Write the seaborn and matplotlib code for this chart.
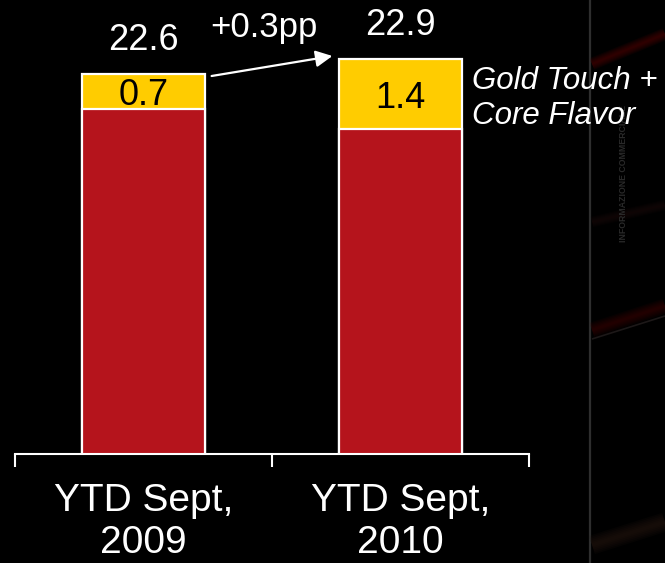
import matplotlib
matplotlib.use("Agg")
import matplotlib.pyplot as plt
from matplotlib.lines import Line2D
import seaborn as sns
import pandas as pd

# Share figures (%), YTD September
periods = ["YTD Sept,\n2009", "YTD Sept,\n2010"]
totals = [22.6, 22.9]
gold_core = [0.7, 1.4]
change_label = "+0.3pp"
segment_label = "Gold Touch +\nCore Flavor"

base = [t - g for t, g in zip(totals, gold_core)]
df = pd.DataFrame({"period": periods, "total": totals, "gold": gold_core, "base": base})

sns.set_style("dark")
plt.rcParams["font.family"] = ["Liberation Sans", "DejaVu Sans"]

RED = "#B5141C"
YELLOW = "#FFCC00"
W, H = 665, 563

fig = plt.figure(figsize=(W / 100, H / 100), dpi=100, facecolor="black")
ax = fig.add_axes([15 / W, 109 / H, 514 / W, 454 / H])
ax.set_facecolor("none")

bar_w = 0.48
sns.barplot(data=df, x="period", y="total", color=YELLOW, width=bar_w,
            edgecolor="white", linewidth=1.6, saturation=1, ax=ax)
sns.barplot(data=df, x="period", y="base", color=RED, width=bar_w,
            edgecolor="white", linewidth=1.6, saturation=1, ax=ax)

ax.set_xlim(-0.5, 1.5)
ax.set_ylim(15, 15 + 454 / 50)
ax.set_xlabel("")
ax.set_ylabel("")
ax.grid(False)
for side in ("top", "right", "left"):
    ax.spines[side].set_visible(False)
ax.spines["bottom"].set_color("white")
ax.spines["bottom"].set_linewidth(1.5)
ax.set_yticks([])

# boundary ticks between categories, labels centred on bars
ax.set_xticks([-0.5, 0.5, 1.5])
ax.set_xticklabels(["", "", ""])
ax.tick_params(axis="x", which="major", bottom=True, direction="out", length=9,
               width=1.5, color="white")
ax.set_xticks([0, 1], minor=True)
ax.set_xticklabels(periods, minor=True)
ax.tick_params(axis="x", which="minor", bottom=True, length=0, pad=21, labelsize=28,
               labelcolor="white")
for lab in ax.get_xticklabels(minor=True):
    lab.set_linespacing(1.22)

# totals above bars and segment values inside the yellow part
for i, (t, g) in enumerate(zip(totals, gold_core)):
    ax.annotate(f"{t:.1f}", xy=(i, t), xytext=(0, 17), textcoords="offset points",
                ha="center", va="baseline", fontsize=26, color="white")
    ax.text(i, t - g / 2, f"{g:.1f}", ha="center", va="center_baseline",
            fontsize=26, color="black")

# change arrow between the bar tops
start = (bar_w / 2 + 0.025, totals[0] - 0.04)
end = (1 - bar_w / 2 - 0.025, totals[1] + 0.06)
ax.annotate("", xy=end, xytext=start,
            arrowprops=dict(arrowstyle="-|>", color="white", lw=1.6,
                            mutation_scale=25, shrinkA=0, shrinkB=0))
ax.text(0.47, 23.34, change_label, ha="center", va="baseline", fontsize=25, color="white")

fig.text(472 / W, 1 - 66 / H, segment_label, ha="left", va="top", fontsize=22.5,
         style="italic", color="white", linespacing=1.22)

# right-hand panel decoration
def px_line(x0, y0, x1, y1, color, lw, alpha):
    fig.add_artist(Line2D([x0 / W, x1 / W], [1 - y0 / H, 1 - y1 / H],
                          transform=fig.transFigure, solid_capstyle="butt",
                          color=color, lw=lw, alpha=alpha, zorder=0))

def glow(x0, y0, x1, y1, color, width, strength):
    # soft band built from stacked translucent strokes
    for k in range(6):
        px_line(x0, y0, x1, y1, color, width * (1 - k / 6), strength)

px_line(590, 0, 590, H, "#2e2e2e", 1.6, 1.0)
glow(592, 64, 665, 34, "#5a0808", 9, 0.12)
glow(592, 330, 665, 306, "#4a0606", 11, 0.10)
px_line(592, 339, 665, 316, "#3a3030", 1.2, 0.5)
glow(592, 222, 665, 205, "#2a1010", 8, 0.08)
glow(592, 545, 665, 522, "#2a1a14", 14, 0.12)
fig.text(624 / W, 1 - 174 / H, "INFORMAZIONE COMMERCIALE", rotation=90,
         ha="center", va="center", fontsize=6.3, color="#2a2a2a", fontweight="bold",
         zorder=0)

fig.savefig("out.png", dpi=100, facecolor="black")
